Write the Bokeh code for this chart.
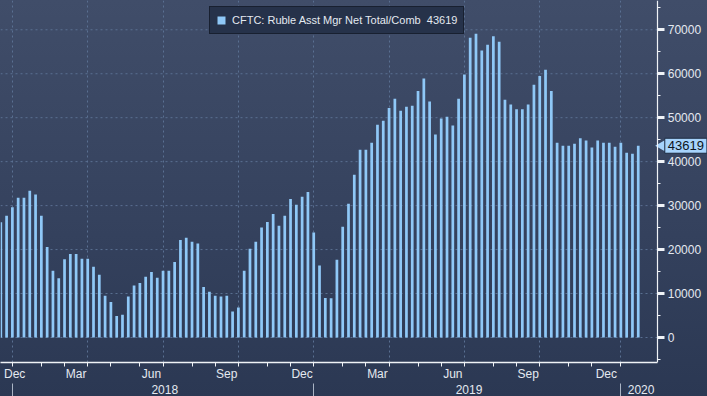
import numpy as np
import pandas as pd
from bokeh.plotting import figure
from bokeh.models import (Range1d, LinearAxis, FixedTicker, Grid, Legend,
                          LegendItem, Label, ColumnDataSource)
from bokeh.embed import file_html
from bokeh.resources import INLINE

# ---------------- data ----------------
series_name = "CFTC: Ruble Asst Mgr Net Total/Comb"
first_week = "2017-12-12"   # weekly (Tuesday) observations
values = [26200, 27700, 29600, 31800, 31800, 33400, 32500, 27700, 20600, 15200,
          13500, 17800, 19000, 19000, 17900, 17900, 16100, 14300, 9500, 8100,
          4900, 5200, 9300, 11800, 12400, 13800, 14900, 13600, 15200, 15200,
          17200, 22200, 22700, 21800, 21400, 11500, 10400, 9500, 9300, 9500,
          5900, 6800, 15200, 20200, 21800, 25000, 26300, 28100, 25400, 27700,
          31500, 30200, 32000, 33100, 23900, 16400, 9000, 8900, 17700, 25200,
          30400, 37000, 42700, 42700, 44300, 48400, 49300, 52200, 54300, 51600,
          52500, 52700, 56100, 58900, 53700, 46200, 49800, 50200, 48200, 54300,
          59800, 68200, 69100, 65300, 66600, 68500, 67300, 54100, 53000, 51900,
          51900, 53000, 57500, 59500, 60900, 56100, 44300, 43600, 43600, 44100,
          45300, 44800, 43200, 44800, 44300, 44300, 43400, 44300, 42000, 41800,
          43619]
y_ticks = [0, 10000, 20000, 30000, 40000, 50000, 60000, 70000]
y_minor_ticks = [-5000, 5000, 15000, 25000, 35000, 45000, 55000, 65000, 75000]
month_names = {12: "Dec", 3: "Mar", 6: "Jun", 9: "Sep"}

# ---------------- derived positions (ordinal weekly axis) ----------------
dates = pd.date_range(first_week, periods=len(values), freq="7D")
idx = np.arange(len(values))
x_start, x_end = -0.05, 113.37      # plotting area (axis sits at x_end)
x_full = 121.95                     # frame continues under the value axis

month_end = [i for i in range(len(dates) - 1) if dates[i].month != dates[i + 1].month]
quarter_end = [i for i in month_end if dates[i].month in (3, 6, 9, 12)]
year_end = [i for i in month_end if dates[i].month == 12]

month_label_pos, month_label_txt = [], []
for j, k in enumerate(month_end):
    m = dates[k].month
    if m in month_names:
        start = month_end[j - 1] if j > 0 else x_start
        c = max((start + k) / 2.0, x_start + 2.45)
        month_label_pos.append(float(c))
        month_label_txt.append(month_names[m])

year_label_pos, year_label_txt = [], []
bounds = year_end + [x_end]
for a, b in zip(bounds[:-1], bounds[1:]):
    year_label_pos.append(float((a + b) / 2.0 + 0.3))
    year_label_txt.append(str(dates[a].year + 1))

last_value = values[-1]

# ---------------- styling ----------------
FONT = "Liberation Sans"
TXT = "#e4e9f0"
GRID = "#5a7092"
BAR = "#8fc8f7"
WHITE = "#f0f3f7"
CALLOUT = "#a6d3fc"

p = figure(width=707, height=396, output_backend="svg", toolbar_location=None,
           x_axis_type=None, y_axis_type=None,
           x_range=Range1d(x_start, x_full), y_range=Range1d(-5690, 76660),
           min_border_left=0, min_border_right=0, min_border_top=0,
           min_border_bottom=0)
p.outline_line_color = None
p.background_fill_alpha = 0
p.border_fill_alpha = 0
p.styles = {"background": "linear-gradient(to bottom, #404d69 0%, #35425e 55%, #2b3853 100%)"}

vgrid = Grid(dimension=0, ticker=FixedTicker(ticks=quarter_end),
             grid_line_color=GRID, grid_line_dash="2 3", grid_line_width=1)
p.add_layout(vgrid)
p.segment(x0=x_start, x1=x_end, y0=y_ticks, y1=y_ticks, line_color=GRID,
          line_dash="2 3", line_width=1, level="underlay")

src = ColumnDataSource(dict(x=idx, top=values))
r = p.vbar(x="x", top="top", bottom=0, width=0.47, source=src,
           fill_color=BAR, line_color=None)

xmonth = LinearAxis(ticker=FixedTicker(ticks=month_label_pos, minor_ticks=month_end),
                    bounds=(x_start, x_end),
                    major_label_overrides=dict(zip(month_label_pos, month_label_txt)),
                    major_tick_out=0, major_tick_in=0, major_tick_line_color=None,
                    minor_tick_out=4, minor_tick_in=0, minor_tick_line_color=WHITE,
                    axis_line_color=WHITE, axis_line_width=1.5,
                    major_label_standoff=0, major_label_text_font=FONT,
                    major_label_text_font_size="12px", major_label_text_color=TXT)
p.add_layout(xmonth, "below")

xyear = LinearAxis(ticker=FixedTicker(ticks=year_label_pos, minor_ticks=year_end),
                   major_label_overrides=dict(zip(year_label_pos, year_label_txt)),
                   major_tick_out=0, major_tick_in=0, major_tick_line_color=None,
                   minor_tick_out=18, minor_tick_in=0, minor_tick_line_color="#aab4c4",
                   axis_line_color=None,
                   major_label_standoff=-17, major_label_text_font=FONT,
                   major_label_text_font_size="12px", major_label_text_color=TXT)
p.add_layout(xyear, "below")

yaxis = LinearAxis(fixed_location=x_end,
                   ticker=FixedTicker(ticks=y_ticks, minor_ticks=y_minor_ticks),
                   major_tick_out=7, major_tick_in=0, major_tick_line_width=3,
                   major_tick_line_color=WHITE,
                   minor_tick_out=3, minor_tick_in=0, minor_tick_line_color=WHITE,
                   axis_line_color=WHITE, axis_line_width=1.2,
                   major_label_standoff=3, major_label_text_font=FONT,
                   major_label_text_font_size="12px", major_label_text_color=TXT)
p.add_layout(yaxis, "right")

# last-value callout on the value axis
p.scatter(x=[x_end + 0.95], y=[last_value], marker="triangle", angle=np.pi / 2,
          size=14, fill_color=CALLOUT, line_color=None)
callout = Label(x=x_end, y=last_value, x_offset=7, text=str(last_value),
                text_baseline="middle", text_align="left",
                text_font=FONT, text_font_size="13px", text_color="#0c1420",
                background_fill_color=CALLOUT, background_fill_alpha=1,
                border_line_color="#1c2a40", border_line_width=1, padding=3)
p.add_layout(callout)

legend = Legend(items=[LegendItem(label=f"{series_name}  {last_value}", renderers=[r])],
                location=(209, 328), orientation="horizontal", margin=0,
                padding=6, spacing=0, glyph_width=10, glyph_height=10,
                label_height=14, label_standoff=6, label_text_font=FONT,
                label_text_font_size="11px", label_text_color=TXT,
                background_fill_color="#26324a", background_fill_alpha=1,
                border_line_color="#0a0e16", border_line_width=1.5)
p.add_layout(legend, "center")

open("out.html", "w").write(file_html(p, INLINE))
